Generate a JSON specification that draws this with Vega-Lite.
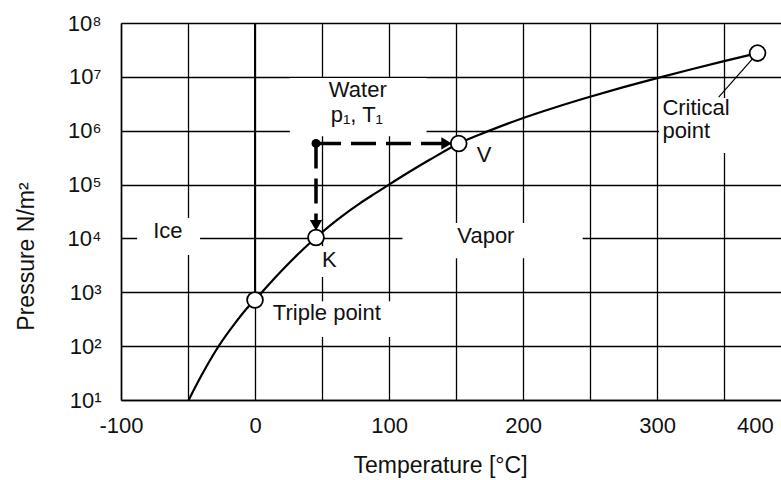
{
  "$schema": "https://vega.github.io/schema/vega-lite/v6.json",
  "width": 660,
  "height": 377,
  "autosize": {"type": "none"},
  "padding": {"left": 121, "top": 23, "right": 0, "bottom": 80},
  "background": "white",
  "config": {"view": {"stroke": null}, "font": "Liberation Sans"},
  "datasets": {
    "curve": [
      {"branch": "sublimation", "T": -49.5, "p": 10}, {"branch": "sublimation", "T": -40, "p": 28.4},
      {"branch": "sublimation", "T": -28, "p": 92.3}, {"branch": "sublimation", "T": -15, "p": 264},
      {"branch": "sublimation", "T": -5, "p": 537}, {"branch": "sublimation", "T": 0, "p": 720},
      {"branch": "vaporization", "T": 0, "p": 720}, {"branch": "vaporization", "T": 10, "p": 1371},
      {"branch": "vaporization", "T": 22, "p": 2851}, {"branch": "vaporization", "T": 33, "p": 5370},
      {"branch": "vaporization", "T": 45.5, "p": 10400}, {"branch": "vaporization", "T": 55, "p": 16630},
      {"branch": "vaporization", "T": 65, "p": 26060}, {"branch": "vaporization", "T": 78, "p": 44360},
      {"branch": "vaporization", "T": 90, "p": 69340}, {"branch": "vaporization", "T": 100, "p": 100000},
      {"branch": "vaporization", "T": 115, "p": 171000}, {"branch": "vaporization", "T": 130, "p": 285100},
      {"branch": "vaporization", "T": 152, "p": 580000}, {"branch": "vaporization", "T": 175, "p": 1004600},
      {"branch": "vaporization", "T": 197, "p": 1618000}, {"branch": "vaporization", "T": 225, "p": 2761000},
      {"branch": "vaporization", "T": 250, "p": 4276000}, {"branch": "vaporization", "T": 275, "p": 6442000},
      {"branch": "vaporization", "T": 300, "p": 9462000}, {"branch": "vaporization", "T": 325, "p": 13680000},
      {"branch": "vaporization", "T": 350, "p": 19540000}, {"branch": "vaporization", "T": 375, "p": 27600000}
    ],
    "melt": [{"T": 0, "p": 720}, {"T": 0, "p": 100000000}],
    "arrows": [
      {"seg": "h", "T": 45.5, "p": 580000}, {"seg": "h", "T": 142, "p": 580000},
      {"seg": "v", "T": 45.5, "p": 580000}, {"seg": "v", "T": 45.5, "p": 19000}
    ],
    "heads": [{"dir": "right", "T": 143, "p": 580000}, {"dir": "down", "T": 45.5, "p": 17500}],
    "dot": [{"T": 45.5, "p": 580000}],
    "circles": [
      {"name": "Triple point", "T": 0, "p": 720}, {"name": "K", "T": 45.5, "p": 10400},
      {"name": "V", "T": 152, "p": 580000}, {"name": "Critical point", "T": 375, "p": 27600000}
    ],
    "leader": [{"T": 375, "p": 27600000}, {"T": 346, "p": 4200000}],
    "boxes": [
      {"T": -88, "T2": -41, "p": 4900, "p2": 24000},
      {"T": 26, "T2": 128, "p": 790000, "p2": 9500000},
      {"T": 110, "T2": 244.5, "p": 4300, "p2": 19300},
      {"T": 47, "T2": 65, "p": 1920, "p2": 7200},
      {"T": 9.6, "T2": 106.5, "p": 148, "p2": 680},
      {"T": 301.5, "T2": 392.5, "p": 385000, "p2": 4050000}
    ],
    "centerLabels": [
      {"text": "Ice", "T": -65, "p": 10000},
      {"text": "Water", "T": 76.7, "p": 4230000},
      {"text": "p₁, T₁", "T": 76, "p": 1450000}
    ],
    "leftLabels": [
      {"text": "Vapor", "T": 151, "p": 8220},
      {"text": "V", "T": 165.4, "p": 262000},
      {"text": "K", "T": 50, "p": 2950},
      {"text": "Triple point", "T": 13.3, "p": 306},
      {"text": "Critical", "T": 304, "p": 1960000},
      {"text": "point", "T": 304, "p": 733000}
    ]
  },
  "encoding": {
    "x": {
      "field": "T", "type": "quantitative",
      "scale": {"domain": [-100, 392.5], "nice": false, "zero": false},
      "axis": {
        "title": "Temperature [°C]",
        "values": [-100, -50, 0, 50, 100, 150, 200, 250, 300, 350, 373],
        "labelExpr": "datum.value > 360 ? '400' : (datum.value % 100 === 0 ? '' + datum.value : '')",
        "grid": true, "gridColor": "#000", "gridWidth": 1.3,
        "gridOpacity": {"condition": {"test": "datum.value > 360", "value": 0}, "value": 1},
        "ticks": false, "labelPadding": 15, "labelFlush": false, "labelOverlap": false,
        "labelFontSize": 22, "labelColor": "#111", "labelFont": "Liberation Sans",
        "domainColor": "#000", "domainWidth": 1.5,
        "titleFontSize": 23, "titleFontWeight": "normal", "titleColor": "#111", "titleFont": "Liberation Sans",
        "titleX": 319, "titleY": 72, "titleBaseline": "alphabetic"
      }
    },
    "y": {
      "field": "p", "type": "quantitative",
      "scale": {"type": "log", "domain": [10, 100000000], "nice": false},
      "axis": {
        "title": "Pressure N/m²",
        "values": [10, 100, 1000, 10000, 100000, 1000000, 10000000, 100000000],
        "labelExpr": "'10' + ['⁰','¹','²','³','⁴','⁵','⁶','⁷','⁸'][round(log(datum.value) / LN10)]",
        "grid": true, "gridColor": "#000", "gridWidth": 1.3,
        "ticks": false, "labelPadding": 20, "labelOverlap": false,
        "labelFontSize": 22, "labelColor": "#111", "labelFont": "Liberation Sans",
        "domainColor": "#000", "domainWidth": 1.5,
        "titleFontSize": 23, "titleFontWeight": "normal", "titleColor": "#111", "titleFont": "Liberation Sans",
        "titleX": -88, "titleY": 233, "titleBaseline": "alphabetic"
      }
    }
  },
  "layer": [
    {
      "data": {"name": "boxes"},
      "mark": {"type": "rect", "fill": "white", "stroke": null},
      "encoding": {"x2": {"field": "T2"}, "y2": {"field": "p2"}}
    },
    {
      "data": {"name": "melt"},
      "mark": {"type": "line", "color": "#000", "strokeWidth": 2},
      "encoding": {}
    },
    {
      "data": {"name": "curve"},
      "mark": {"type": "line", "color": "#000", "strokeWidth": 2.2, "interpolate": "monotone"},
      "encoding": {"detail": {"field": "branch"}}
    },
    {
      "data": {"name": "leader"},
      "mark": {"type": "line", "color": "#000", "strokeWidth": 1.2},
      "encoding": {}
    },
    {
      "data": {"name": "arrows"},
      "mark": {"type": "line", "color": "#000", "strokeWidth": 3.5, "strokeDash": [25, 10]},
      "encoding": {"detail": {"field": "seg"}}
    },
    {
      "data": {"name": "circles"},
      "mark": {"type": "point", "shape": "circle", "filled": true, "fill": "white", "stroke": "#000", "strokeWidth": 1.8, "size": 250, "opacity": 1},
      "encoding": {}
    },
    {
      "data": {"name": "heads"},
      "mark": {"type": "point", "filled": true, "color": "#000", "size": 150, "opacity": 1},
      "encoding": {
        "shape": {"field": "dir", "type": "nominal", "scale": {"domain": ["right", "down"], "range": ["triangle-right", "triangle-down"]}, "legend": null}
      }
    },
    {
      "data": {"name": "dot"},
      "mark": {"type": "point", "shape": "circle", "filled": true, "color": "#000", "size": 80, "opacity": 1},
      "encoding": {}
    },
    {
      "data": {"name": "centerLabels"},
      "mark": {"type": "text", "align": "center", "baseline": "alphabetic", "fontSize": 22, "font": "Liberation Sans", "color": "#111"},
      "encoding": {"text": {"field": "text"}}
    },
    {
      "data": {"name": "leftLabels"},
      "mark": {"type": "text", "align": "left", "baseline": "alphabetic", "fontSize": 22, "font": "Liberation Sans", "color": "#111"},
      "encoding": {"text": {"field": "text"}}
    }
  ]
}
